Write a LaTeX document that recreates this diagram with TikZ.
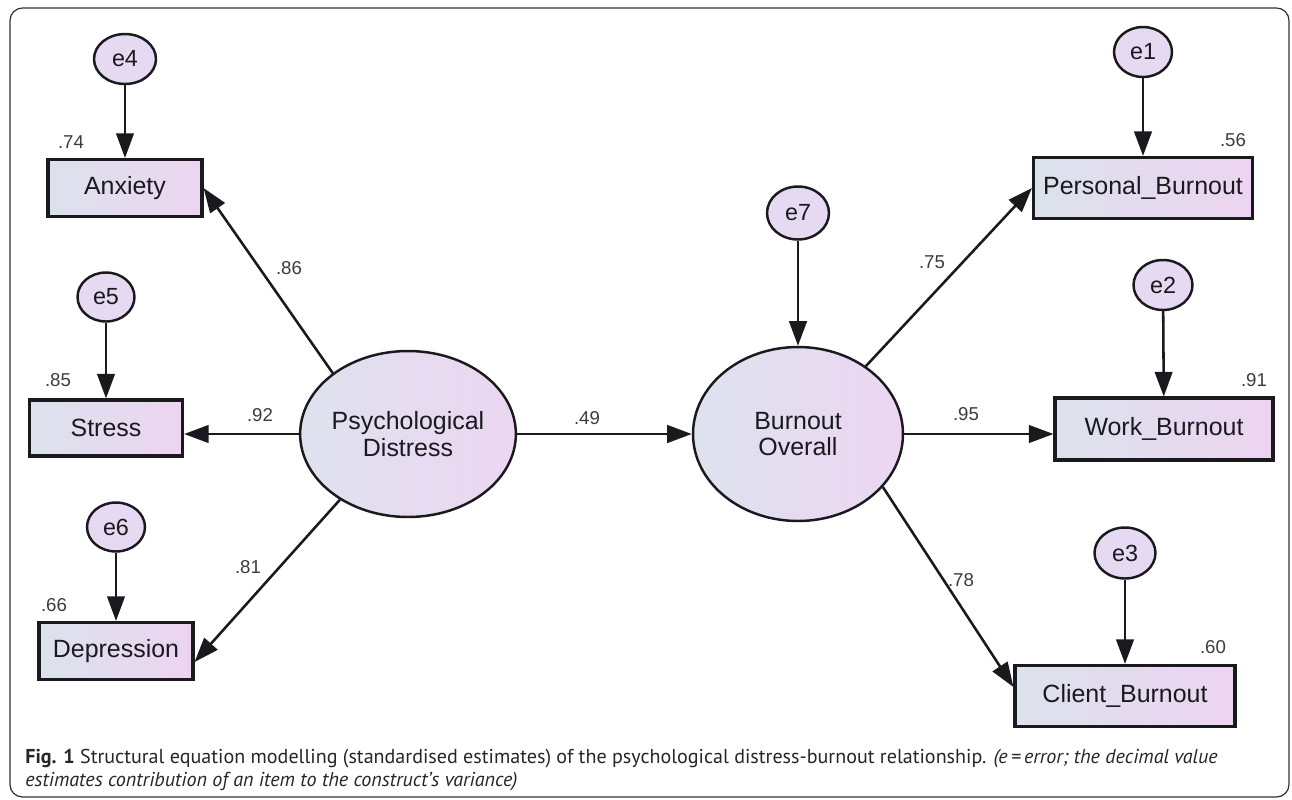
\documentclass[tikz,border=0pt]{standalone}
\usepackage{fontspec}
\setmainfont{Liberation Sans}
\newfontfamily\capfont{PT Sans}
\usetikzlibrary{arrows.meta,shapes.geometric}
\definecolor{boxL}{RGB}{220,226,236}
\definecolor{boxR}{RGB}{237,212,241}
\definecolor{latL}{RGB}{222,226,238}
\definecolor{latR}{RGB}{236,214,242}
\definecolor{errfill}{RGB}{230,218,242}
\definecolor{ink}{RGB}{25,25,30}
\begin{document}
\begin{tikzpicture}[x=0.02cm,y=-0.02cm,
  obs/.style={draw=ink, line width=1.8pt, rectangle, inner sep=0pt, left color=boxL, right color=boxR, text=ink, font=\fontsize{14.2}{16}\selectfont},
  lat/.style={draw=ink, line width=1.4pt, ellipse, inner sep=0pt, left color=latL, right color=latR, text=ink, align=center, font=\fontsize{14.2}{15.3}\selectfont},
  err/.style={draw=ink, line width=1.4pt, ellipse, inner sep=0pt, fill=errfill, text=ink, font=\fontsize{13.3}{14}\selectfont},
  arr/.style={draw=ink, line width=1.45pt, -{Triangle[length=14pt,width=10pt]}},
  numlab/.style={text=ink!85, inner sep=0pt, font=\fontsize{10.6}{12}\selectfont}
]
\useasboundingbox (0,0) rectangle (1292,799);
\draw[rounded corners=0.25cm, line width=0.7pt, draw=black!80] (10,8) rectangle (1289,797);

% latent variables
\node[lat, minimum width=3.92cm, minimum height=3.32cm] (psy) at (408,434) {Psychological\\Distress};
\node[lat, minimum width=4.2cm, minimum height=3.48cm] (burn) at (798,434) {Burnout\\Overall};

% observed variables (left)
\node[obs, minimum width=3.08cm, minimum height=1.14cm] (anx) at (125,188) {Anxiety};
\node[obs, minimum width=3.06cm, minimum height=1.12cm] (str) at (106,428) {Stress};
\node[obs, minimum width=3.08cm, minimum height=1.14cm] (dep) at (116,651) {Depression};

% observed variables (right)
\node[obs, minimum width=4.38cm, minimum height=1.22cm] (pers) at (1143,188) {Personal\_Burnout};
\node[obs, minimum width=4.36cm, minimum height=1.24cm] (work) at (1164,429) {Work\_Burnout};
\node[obs, minimum width=4.4cm, minimum height=1.22cm] (cli) at (1125,696) {Client\_Burnout};

% error terms
\node[err, minimum width=1.24cm, minimum height=1.0cm] (e4) at (125,59) {e4};
\node[err, minimum width=1.14cm, minimum height=0.98cm] (e5) at (106,297) {e5};
\node[err, minimum width=1.16cm, minimum height=0.98cm] (e6) at (116,527) {e6};
\node[err, minimum width=1.16cm, minimum height=1.0cm] (e1) at (1143,52) {e1};
\node[err, minimum width=1.18cm, minimum height=1.0cm] (e2) at (1163,285) {e2};
\node[err, minimum width=1.22cm, minimum height=1.02cm] (e3) at (1125,553) {e3};
\node[err, minimum width=1.24cm, minimum height=1.06cm] (e7) at (798,213) {e7};

% error arrows
\draw[arr] (e4) -- (anx);
\draw[arr] (e5) -- (str);
\draw[arr] (e6) -- (dep);
\draw[arr] (e1) -- (pers);
\draw[arr] (e2) -- (work);
\draw[arr] (e3) -- (cli);
\draw[arr] (e7) -- (burn);

% structural / measurement paths
\draw[arr] (psy.141) -- (anx.east);
\draw[arr] (psy.west) -- (psy.west -| str.east);
\draw[arr] (psy.224) -- ([yshift=-0.22cm]dep.east);
\draw[arr] (psy.east) -- (burn.west);
\draw[arr] (burn.45) -- (pers.west);
\draw[arr] (burn.east) -- (burn.east -| work.west);
\draw[arr] (burn.-32) -- ([yshift=0.18cm]cli.west);

% values
\node[numlab] (v74) at (71,142) {.74};
\node[numlab] (v85) at (58,380) {.85};
\node[numlab] (v66) at (54,605) {.66};
\node[numlab] (v86) at (289,268) {.86};
\node[numlab] (v92) at (260,415) {.92};
\node[numlab] (v81) at (248,567) {.81};
\node[numlab] (v49) at (587,418) {.49};
\node[numlab] (v75) at (932,262) {.75};
\node[numlab] (v56) at (1233,140) {.56};
\node[numlab] (v91) at (1254,380) {.91};
\node[numlab] (v95) at (966,414) {.95};
\node[numlab] (v78) at (961,580) {.78};
\node[numlab] (v60) at (1213,647) {.60};

% caption
\node[anchor=base west, inner sep=0pt, text=black!85] (cap1) at (25,763) {\capfont\fontsize{11.42}{14}\selectfont\textbf{Fig. 1} Structural equation modelling (standardised estimates) of the psychological distress-burnout relationship. \textit{(e\,=\,error; the decimal value}};
\node[anchor=base west, inner sep=0pt, text=black!85] (cap2) at (25,786) {\capfont\fontsize{11.42}{14}\selectfont\textit{estimates contribution of an item to the construct’s variance)}};
\end{tikzpicture}
\end{document}
